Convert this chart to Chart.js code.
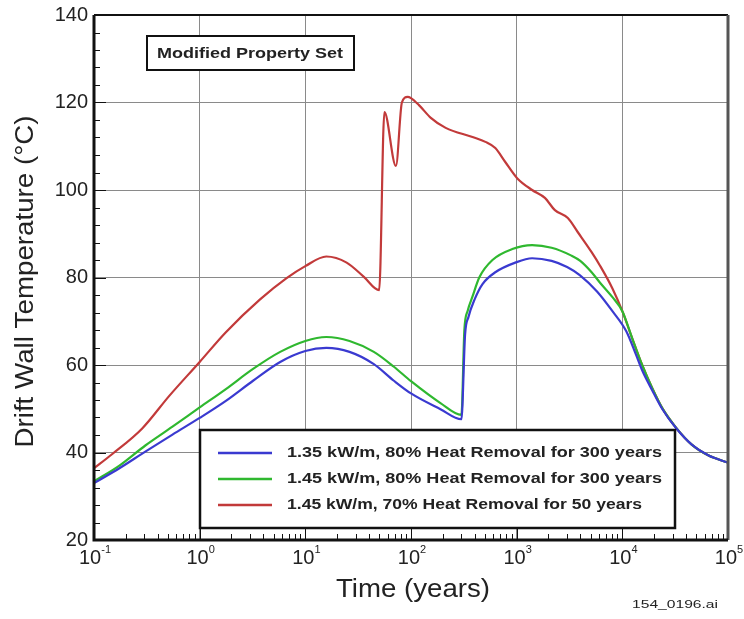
<!DOCTYPE html>
<html>
<head>
<meta charset="utf-8">
<script src="https://cdn.jsdelivr.net/npm/chart.js@4"></script>
<style>
  body { margin: 0; background: #fff; }
  canvas { display: block; }
</style>
</head>
<body>
<canvas id="myChart" width="744" height="619"></canvas>
<script>
'use strict'
// values: time (years) and drift wall temperature (C)
const seriesLabels = [
  '1.35 kW/m, 80% Heat Removal for 300 years',
  '1.45 kW/m, 80% Heat Removal for 300 years',
  '1.45 kW/m, 70% Heat Removal for 50 years'
]
const timeBlue = [0.1, 0.174, 0.306, 0.553, 1, 1.77, 3.2, 5.78, 10, 15.8, 26.2, 44.5, 68.9, 100, 190, 300, 325, 350, 400, 475, 628, 970, 1400, 2140, 3000, 3980, 5760, 8060, 10900, 13500, 15400, 19100, 23800, 32200, 45400, 65600, 100000]
const tempBlue = [33, 36.4, 40.2, 44.1, 47.9, 51.8, 56.4, 60.7, 63.2, 63.9, 63, 60.2, 56.4, 53.5, 49.9, 47.6, 67, 71, 75, 78.5, 81.2, 83.4, 84.4, 83.8, 82.4, 80.5, 76.8, 72.3, 67.7, 62.3, 58.8, 54.3, 50, 45.6, 41.8, 39.3, 37.7]
const timeGreen = [0.1, 0.174, 0.306, 0.553, 1, 1.77, 3.2, 5.78, 10, 15.8, 26.2, 44.5, 68.9, 100, 190, 300, 320, 345, 380, 445, 590, 910, 1400, 2140, 3300, 4000, 5120, 6150, 8060, 10000, 12400, 15400, 19100, 23800, 32200, 45400, 65600, 100000]
const tempGreen = [33.4, 37, 41.6, 45.9, 50.3, 54.5, 59.1, 63, 65.5, 66.4, 65.5, 63, 59.6, 56.3, 51.3, 48.6, 68, 72.5, 75.5, 80.1, 84, 86.5, 87.4, 86.8, 85, 83.8, 81.2, 78.8, 75.5, 72.3, 66.1, 60, 54.8, 50.2, 45.7, 41.8, 39.3, 37.7]
const timeRed = [0.1, 0.148, 0.286, 0.518, 1, 1.77, 3.73, 6.6, 10, 15.8, 24.6, 35.6, 50, 56, 72, 82, 93, 100, 119, 154, 213, 382, 506, 628, 780, 1010, 1400, 1850, 2300, 3050, 3780, 5120, 6150, 8060, 10000, 12400, 15400, 19100, 23800, 32200, 45400, 65600, 100000]
const tempRed = [36.4, 39.6, 45.5, 53, 60.7, 67.5, 75, 79.8, 82.6, 84.8, 83.4, 80.2, 77.1, 117.8, 105.5, 120, 121.3, 121, 119.4, 116.5, 114.2, 112.1, 111, 109.6, 106.4, 102.7, 100, 98.2, 95.4, 93.6, 90.4, 85.8, 82.7, 77.5, 72.3, 66.1, 60, 54.8, 50.2, 45.7, 41.8, 39.3, 37.7]
const xDecades = [0.1, 1, 10, 100, 1000, 10000, 100000]
const xExponents = ['-1', '0', '1', '2', '3', '4', '5']
const yTicks = [20, 40, 60, 80, 100, 120, 140]

const colors = ['#3a3ad0', '#2fb82f', '#c23a3a']

function pts(xs, ys) {
  return xs.map((x, i) => ({ x: x, y: ys[i] }))
}

// stretch text horizontally to a width taken from the original figure
function fitText(ctx, text, x, y, w) {
  const m = ctx.measureText(text).width
  ctx.save()
  ctx.translate(x, y)
  ctx.scale(w / m, 1)
  ctx.fillText(text, 0, 0)
  ctx.restore()
}

const decorations = {
  id: 'decorations',
  afterDatasetsDraw(chart) {
    const ctx = chart.ctx
    const a = chart.chartArea
    const xs = chart.scales.x
    const ys = chart.scales.y
    ctx.save()

    // minor and major ticks, inside the frame
    ctx.strokeStyle = '#111'
    ctx.lineWidth = 1
    for (let v = 20; v <= 140; v += 4) {
      const py = Math.round(ys.getPixelForValue(v)) + 0.5
      const len = v % 20 === 0 ? 12 : 6
      ctx.beginPath()
      ctx.moveTo(a.left, py)
      ctx.lineTo(a.left + len, py)
      ctx.stroke()
    }
    for (let d = 0.1; d < 100000; d *= 10) {
      for (let k = 1; k <= 9; k++) {
        const px = Math.round(xs.getPixelForValue(d * k)) + 0.5
        const len = k === 1 ? 12 : 6
        ctx.beginPath()
        ctx.moveTo(px, a.bottom)
        ctx.lineTo(px, a.bottom - len)
        ctx.stroke()
      }
    }

    // frame
    ctx.strokeStyle = '#111'
    ctx.lineWidth = 2
    ctx.beginPath()
    ctx.moveTo(a.left, a.top)
    ctx.lineTo(a.right, a.top)
    ctx.stroke()
    ctx.strokeStyle = '#555'
    ctx.lineWidth = 3
    ctx.beginPath()
    ctx.moveTo(a.right, a.top)
    ctx.lineTo(a.right, a.bottom)
    ctx.stroke()
    ctx.strokeStyle = '#111'
    ctx.beginPath()
    ctx.moveTo(a.left, a.top)
    ctx.lineTo(a.left, a.bottom)
    ctx.lineTo(a.right, a.bottom)
    ctx.stroke()

    // y tick labels
    ctx.fillStyle = '#222'
    ctx.font = '20px Arial, "Liberation Sans", sans-serif'
    ctx.textAlign = 'right'
    ctx.textBaseline = 'middle'
    yTicks.forEach(v => {
      ctx.fillText(String(v), a.left - 6, ys.getPixelForValue(v))
    })

    // x tick labels: 10 with superscript exponent
    ctx.textBaseline = 'alphabetic'
    ctx.textAlign = 'left'
    xDecades.forEach((v, i) => {
      const px = xs.getPixelForValue(v)
      ctx.font = '20px Arial, "Liberation Sans", sans-serif'
      const w10 = ctx.measureText('10').width
      ctx.font = '11px Arial, "Liberation Sans", sans-serif'
      const we = ctx.measureText(xExponents[i]).width
      const x0 = px - (w10 + we) / 2 + 1
      ctx.font = '20px Arial, "Liberation Sans", sans-serif'
      ctx.fillText('10', x0, a.bottom + 24)
      ctx.font = '11px Arial, "Liberation Sans", sans-serif'
      ctx.fillText(xExponents[i], x0 + w10, a.bottom + 13)
    })

    // axis titles
    ctx.font = '25px Arial, "Liberation Sans", sans-serif'
    ctx.textAlign = 'center'
    ctx.textBaseline = 'middle'
    fitText(ctx, 'Time (years)', (a.left + a.right) / 2 + 2, a.bottom + 50, 154)
    ctx.save()
    ctx.translate(26, (a.top + a.bottom) / 2 + 4)
    ctx.rotate(-Math.PI / 2)
    fitText(ctx, 'Drift Wall Temperature (°C)', 0, 0, 332)
    ctx.restore()

    ctx.font = '11px Arial, "Liberation Sans", sans-serif'
    fitText(ctx, '154_0196.ai', 675, 605, 86)

    // annotation box
    ctx.fillStyle = '#fff'
    ctx.fillRect(147, 36, 207, 34)
    ctx.strokeStyle = '#111'
    ctx.lineWidth = 2
    ctx.strokeRect(147, 36, 207, 34)
    ctx.fillStyle = '#222'
    ctx.font = 'bold 15px Arial, "Liberation Sans", sans-serif'
    ctx.textAlign = 'left'
    fitText(ctx, 'Modified Property Set', 157, 54, 186)

    // legend box
    ctx.fillStyle = '#fff'
    ctx.fillRect(200, 430, 475, 98)
    ctx.strokeStyle = '#111'
    ctx.lineWidth = 2.5
    ctx.strokeRect(200, 430, 475, 98)
    ctx.font = 'bold 15px Arial, "Liberation Sans", sans-serif'
    chart.data.datasets.forEach((ds, i) => {
      const ly = 453 + i * 26
      ctx.strokeStyle = ds.borderColor
      ctx.lineWidth = 2.5
      ctx.beginPath()
      ctx.moveTo(218, ly)
      ctx.lineTo(272, ly)
      ctx.stroke()
      ctx.fillStyle = '#222'
      const m = ctx.measureText(ds.label).width
      ctx.save()
      ctx.translate(287, ly)
      ctx.scale(i === 2 ? 355 / m : 375 / m, 1)
      ctx.fillText(ds.label, 0, 0)
      ctx.restore()
    })
    ctx.restore()
  }
}

const ctx = document.getElementById('myChart').getContext('2d')
const myChart = new Chart(ctx, {
  type: 'line',
  data: {
    datasets: [
      { label: seriesLabels[0], data: pts(timeBlue, tempBlue), borderColor: colors[0] },
      { label: seriesLabels[1], data: pts(timeGreen, tempGreen), borderColor: colors[1] },
      { label: seriesLabels[2], data: pts(timeRed, tempRed), borderColor: colors[2] }
    ]
  },
  options: {
    responsive: false,
    animation: false,
    layout: { padding: { left: 94, right: 16, top: 15, bottom: 79 } },
    elements: {
      point: { radius: 0 },
      line: { borderWidth: 2.2, cubicInterpolationMode: 'monotone', fill: false }
    },
    plugins: { legend: { display: false }, tooltip: { enabled: false } },
    scales: {
      x: {
        type: 'logarithmic',
        min: 0.1,
        max: 100000,
        afterBuildTicks: scale => {
          scale.ticks = xDecades.map(v => ({ value: v }))
        },
        ticks: { display: false },
        border: { display: false },
        grid: { color: '#8a8a8a', lineWidth: 1, drawTicks: false }
      },
      y: {
        type: 'linear',
        min: 20,
        max: 140,
        ticks: { display: false, stepSize: 20 },
        border: { display: false },
        grid: { color: '#8a8a8a', lineWidth: 1, drawTicks: false }
      }
    }
  },
  plugins: [decorations]
})
</script>
</body>
</html>
